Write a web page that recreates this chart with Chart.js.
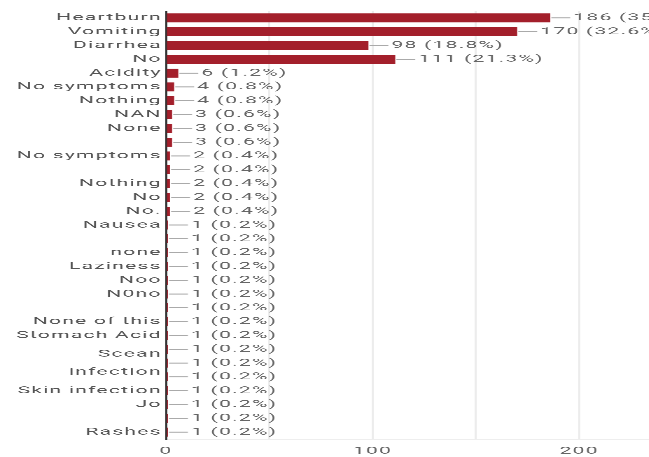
<!DOCTYPE html>
<html>
<head>
<meta charset="utf-8">
<script src="https://cdn.jsdelivr.net/npm/chart.js@4.4.1/dist/chart.umd.min.js"></script>
<style>
    html, body { margin: 0; padding: 0; background: #fff; overflow: hidden; }
    #frame { width: 649px; height: 457px; overflow: hidden; }
    /* the source picture is stretched sideways, so the chart is too */
    #wrap { width: 335px; height: 457px; transform: scaleX(2.1); transform-origin: 0 0; }
</style>
</head>
<body>
<div id="frame"><div id="wrap"><canvas id="chart"></canvas></div></div>
<script>
const labels = [
    'Heartburn', 'Vomiting', 'Diarrhea', 'No', 'Acidity', 'No symptoms', 'Nothing', 'NAN', 'None', '',
    'No symptoms', '', 'Nothing', 'No', 'No.', 'Nausea', '', 'none', 'Laziness', 'Noo',
    'N0no', '', 'None of this', 'Stomach Acid', '', ['Scean', 'infection'], '', 'Skin infection', 'Jo', '',
    'Rashes'
];
const counts = [
    186, 170, 98, 111, 6, 4, 4, 3, 3, 3,
    2, 2, 2, 2, 2, 1, 1, 1, 1, 1,
    1, 1, 1, 1, 1, 1, 1, 1, 1, 1,
    1
];
const percents = [
    35.7, 32.6, 18.8, 21.3, 1.2, 0.8, 0.8, 0.6, 0.6, 0.6,
    0.4, 0.4, 0.4, 0.4, 0.4, 0.2, 0.2, 0.2, 0.2, 0.2,
    0.2, 0.2, 0.2, 0.2, 0.2, 0.2, 0.2, 0.2, 0.2, 0.2,
    0.2
];
const xTicks = [0, 100, 200];

// spaced-out lettering like the source picture
const spacing = {
    id: 'spacing',
    beforeDraw(chart) {
        chart.ctx.letterSpacing = '0.6px';
    }
};

// connector line + "count (pct%)" after each bar
const valueLabels = {
    id: 'valueLabels',
    afterDatasetsDraw(chart) {
        const ctx = chart.ctx;
        const meta = chart.getDatasetMeta(0);
        ctx.save();
        ctx.letterSpacing = '0.6px';
        ctx.font = '10px Roboto';
        ctx.fillStyle = '#666';
        ctx.strokeStyle = '#aaa';
        ctx.lineWidth = 1;
        ctx.textBaseline = 'middle';
        meta.data.forEach((bar, i) => {
            ctx.beginPath();
            ctx.moveTo(bar.x + 0.5, bar.y);
            ctx.lineTo(bar.x + 9.5, bar.y);
            ctx.stroke();
            ctx.fillText(`${counts[i]} (${percents[i].toFixed(1)}%)`, bar.x + 11, bar.y);
        });
        ctx.restore();
    }
};

new Chart(document.getElementById('chart'), {
    type: 'bar',
    data: {
        labels: labels,
        datasets: [{
            data: counts,
            backgroundColor: '#a31f2b',
            barPercentage: 0.65,
            categoryPercentage: 1
        }]
    },
    options: {
        indexAxis: 'y',
        responsive: true,
        maintainAspectRatio: false,
        animation: false,
        devicePixelRatio: 3,
        layout: { padding: { top: 10, right: 10, left: 0, bottom: 0 } },
        plugins: {
            legend: { display: false },
            tooltip: { enabled: false }
        },
        scales: {
            x: {
                min: 0,
                max: 250,
                afterFit: (s) => { s.height = 18; },
                ticks: {
                    stepSize: 50,
                    padding: 6,
                    color: '#666',
                    font: { family: 'Roboto', size: 10 },
                    callback: (v) => xTicks.includes(v) ? v : ''
                },
                grid: { color: '#ececec', drawTicks: false },
                border: { color: '#eeeeee' }
            },
            y: {
                afterFit: (s) => { s.width = 79; },
                ticks: {
                    autoSkip: false,
                    padding: 2,
                    color: '#555',
                    font: { family: 'Roboto', size: 10, lineHeight: 1.8 }
                },
                grid: { display: false, drawTicks: false },
                border: { color: '#333', width: 1 }
            }
        }
    },
    plugins: [spacing, valueLabels]
});
</script>
</body>
</html>
